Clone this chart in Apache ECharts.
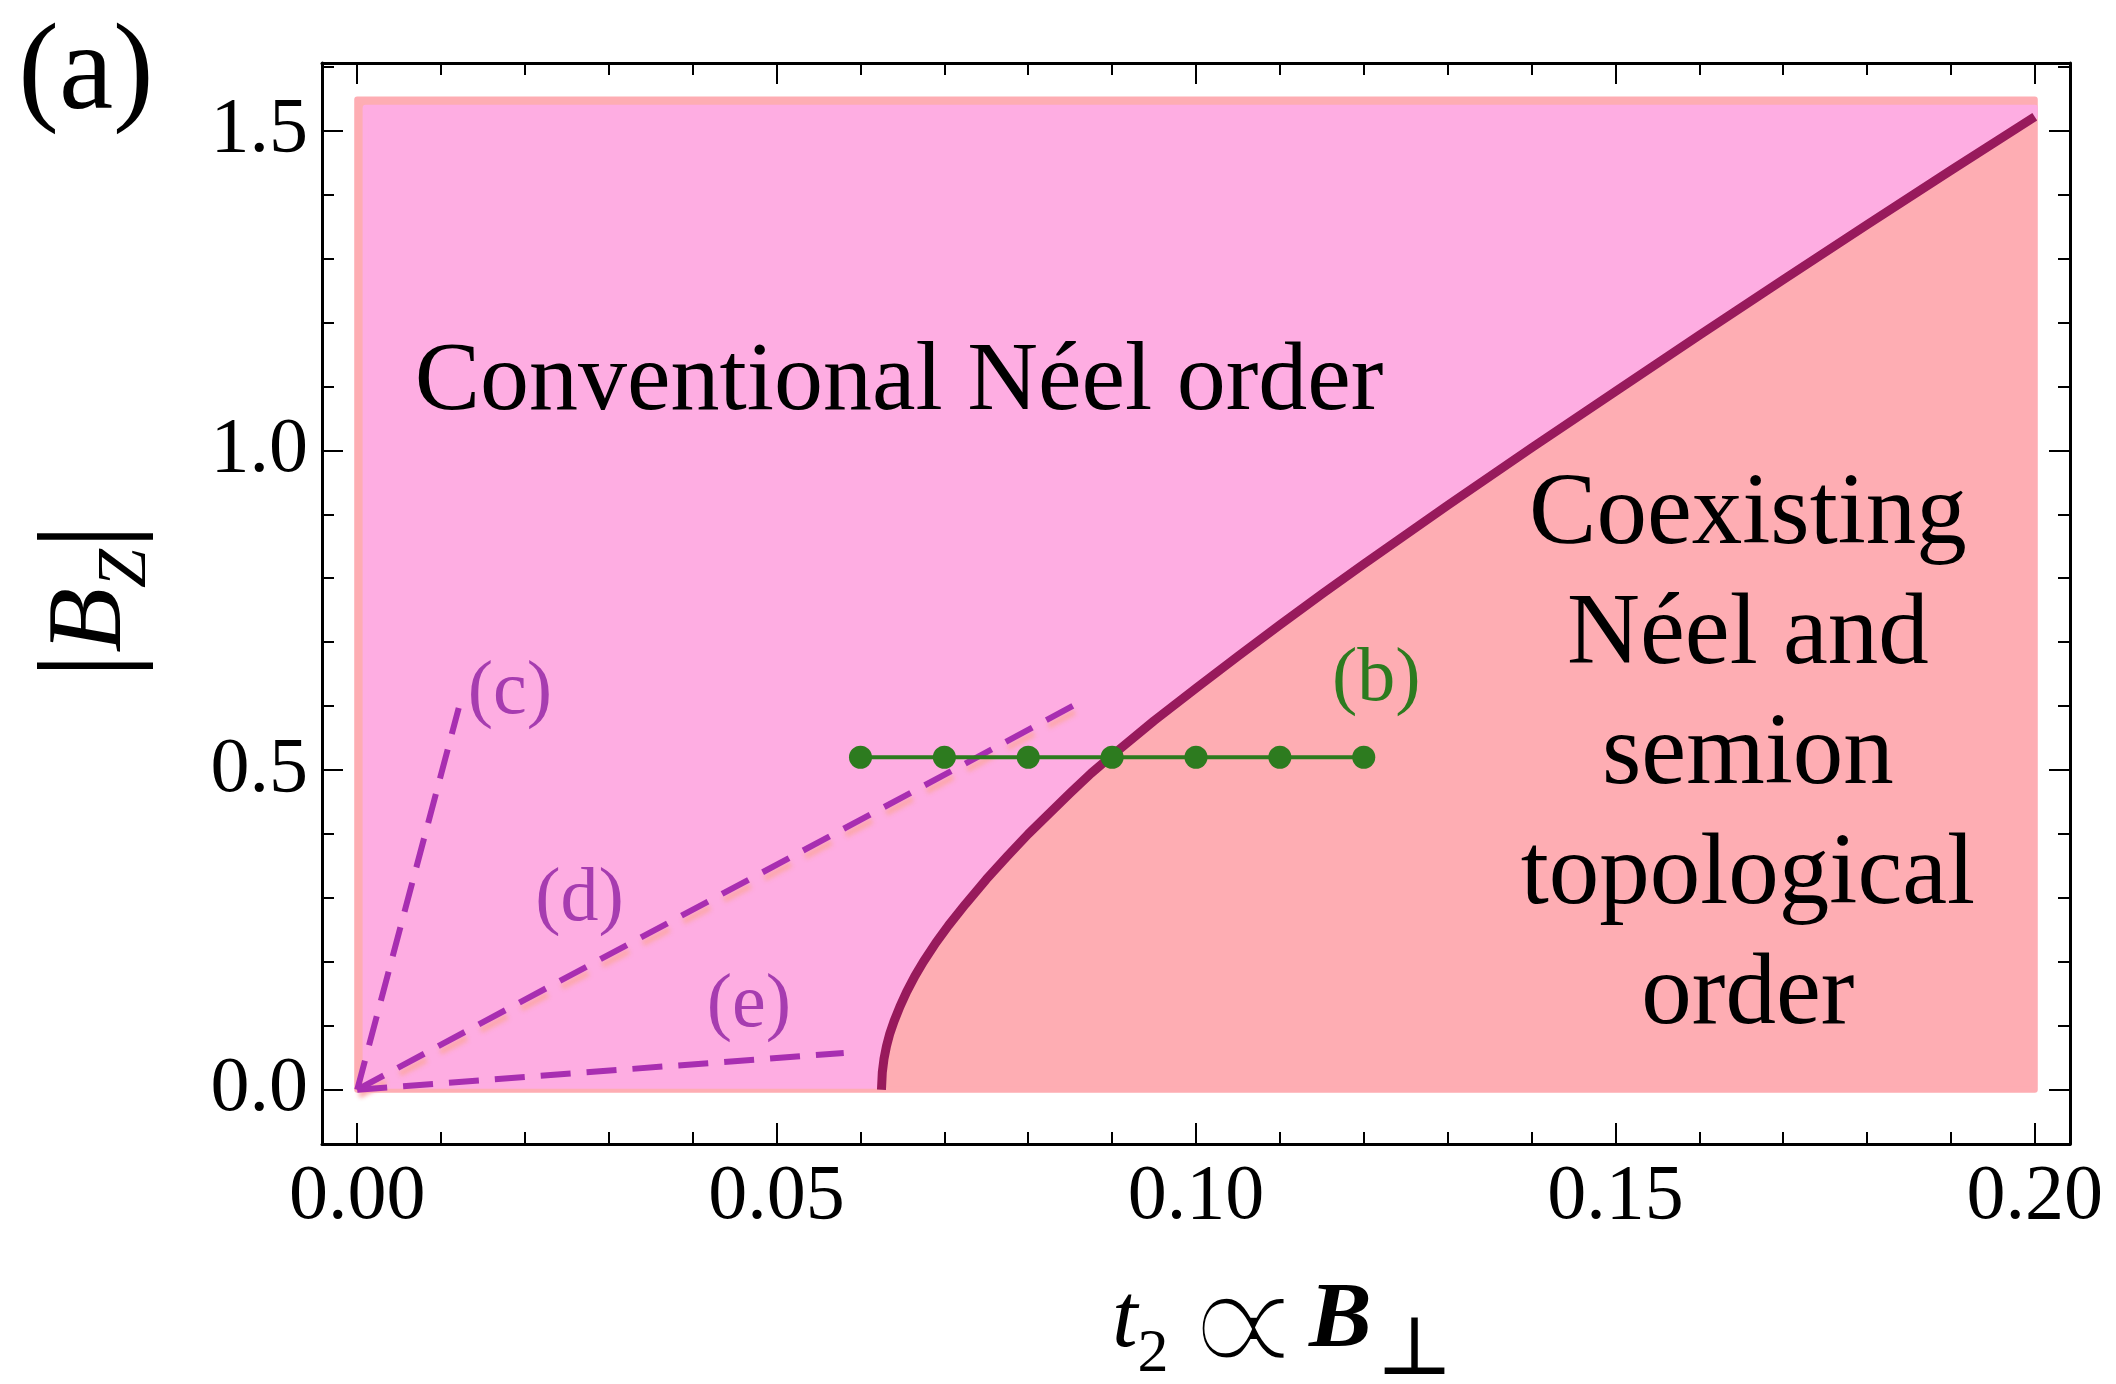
<!DOCTYPE html>
<html>
<head>
<meta charset="utf-8">
<script src="https://cdn.jsdelivr.net/npm/echarts@6/dist/echarts.min.js"></script>
<style>
html,body{margin:0;padding:0;background:#fff;}
#chart{width:2116px;height:1384px;}
</style>
</head>
<body>
<div id="chart"></div>
<script>
// ---------- data ----------
// axis tick values
const xMajorTicks = [0.00, 0.05, 0.10, 0.15, 0.20];
const xMinorTicks = [0.01, 0.02, 0.03, 0.04, 0.06, 0.07, 0.08, 0.09, 0.11, 0.12, 0.13, 0.14, 0.16, 0.17, 0.18, 0.19];
const yMajorTicks = [0.0, 0.5, 1.0, 1.5];
const yMinorTicks = [0.1, 0.2, 0.3, 0.4, 0.6, 0.7, 0.8, 0.9, 1.1, 1.2, 1.3, 1.4, 1.6];

// phase boundary (t2, |Bz|)
const boundaryT = [0.0625, 0.0626, 0.0628, 0.0631, 0.0635, 0.0640, 0.0647, 0.0655, 0.0665, 0.0675, 0.0690, 0.0705, 0.0725, 0.0750, 0.0775, 0.0800, 0.0825, 0.0850, 0.0875, 0.0900, 0.0950, 0.1000, 0.1050, 0.1100, 0.1150, 0.1200, 0.1300, 0.1400, 0.1500, 0.1600, 0.1700, 0.1800, 0.1900, 0.2000];
const boundaryB = [0.000, 0.027, 0.048, 0.068, 0.088, 0.107, 0.130, 0.153, 0.178, 0.200, 0.230, 0.257, 0.290, 0.329, 0.365, 0.400, 0.432, 0.464, 0.495, 0.523, 0.577, 0.628, 0.678, 0.727, 0.775, 0.822, 0.914, 1.004, 1.092, 1.180, 1.267, 1.353, 1.438, 1.522];

// whole computed region (coexisting phase background)
const regionT = [0.0, 0.2, 0.2, 0.0];
const regionB = [0.0, 0.0, 1.549, 1.549];
// conventional Neel region limits
const neelLeftT = 0.001;
const neelBottomB = 0.006;
const neelTopB = 1.536;

// cut (b): green points
const cutT = [0.06, 0.07, 0.08, 0.09, 0.10, 0.11, 0.12];
const cutB = [0.52, 0.52, 0.52, 0.52, 0.52, 0.52, 0.52];

// dashed paths (c), (d), (e)
const pathCT = [0, 0.0121];
const pathCB = [0, 0.597];
const pathDT = [0, 0.0854];
const pathDB = [0, 0.601];
const pathET = [0, 0.0580];
const pathEB = [0, 0.0575];

// ---------- chart ----------
const X_MIN = -0.0042, X_MAX = 0.2042;
const Y_MIN = -0.085, Y_MAX = 1.606;
const SERIF = "'Liberation Serif', 'DejaVu Serif', serif";
const PINK = '#FEADE2', SALMON = '#FEADB3', MAROON = '#981A5C', PURPLE = '#A82EB1', GREEN = '#2D7B1F';

const zip = (a, b) => a.map((v, i) => [v, b[i]]);

function xAxisDef(pos, ticks, len, withLabel, withLine) {
  return {
    type: 'value', gridIndex: 0, position: pos, min: X_MIN, max: X_MAX,
    axisLine: { show: withLine, onZero: false, lineStyle: { color: '#000', width: 3 } },
    axisTick: { show: true, inside: true, length: len, customValues: ticks, lineStyle: { color: '#000', width: 2 } },
    axisLabel: withLabel ? {
      show: true, customValues: ticks, formatter: v => v.toFixed(2), margin: 15,
      fontSize: 78, fontFamily: SERIF, color: '#000'
    } : { show: false },
    splitLine: { show: false }
  };
}
function yAxisDef(pos, ticks, len, withLabel, withLine) {
  return {
    type: 'value', gridIndex: 0, position: pos, min: Y_MIN, max: Y_MAX,
    axisLine: { show: withLine, onZero: false, lineStyle: { color: '#000', width: 3 } },
    axisTick: { show: true, inside: true, length: len, customValues: ticks, lineStyle: { color: '#000', width: 2 } },
    axisLabel: withLabel ? {
      show: true, customValues: ticks, formatter: v => v.toFixed(1), margin: 14,
      fontSize: 78, fontFamily: SERIF, color: '#000'
    } : { show: false },
    splitLine: { show: false }
  };
}

function polygonSeries(name, pts, fill, z) {
  return {
    name, type: 'custom', xAxisIndex: 0, yAxisIndex: 0, silent: true, z,
    data: [[0, 0]],
    renderItem: (params, api) => ({
      type: 'polygon',
      shape: { points: pts.map(p => api.coord(p)) },
      style: { fill: fill, stroke: fill, lineWidth: 6, lineJoin: 'round' }
    })
  };
}

const regionPts = zip(regionT, regionB);
const boundaryPts = zip(boundaryT, boundaryB);
const neelPts = [[neelLeftT, neelBottomB], [boundaryT[0], neelBottomB]]
  .concat(boundaryPts.slice(1))
  .concat([[boundaryT[boundaryT.length - 1], neelTopB], [neelLeftT, neelTopB]]);

function dashed(name, t, b, shadow) {
  return {
    name, type: 'line', xAxisIndex: 0, yAxisIndex: 0, z: 4, silent: true,
    data: zip(t, b), showSymbol: false,
    lineStyle: Object.assign({ color: PURPLE, width: 6, type: [30, 16], cap: 'butt' },
      shadow ? { shadowColor: 'rgba(252,168,168,0.95)', shadowBlur: 4, shadowOffsetX: 2, shadowOffsetY: 6 } : {})
  };
}

const chart = echarts.init(document.getElementById('chart'), null, { renderer: 'canvas' });
const option = {
  animation: false,
  backgroundColor: '#fff',
  grid: { left: 322, right: 46, top: 63, bottom: 240, containLabel: false },
  xAxis: [
    xAxisDef('bottom', xMajorTicks, 21, true, true),
    xAxisDef('bottom', xMinorTicks, 12, false, false),
    xAxisDef('top', xMajorTicks, 21, false, true),
    xAxisDef('top', xMinorTicks, 12, false, false)
  ],
  yAxis: [
    yAxisDef('left', yMajorTicks, 21, true, true),
    yAxisDef('left', yMinorTicks, 12, false, false),
    yAxisDef('right', yMajorTicks, 21, false, true),
    yAxisDef('right', yMinorTicks, 12, false, false)
  ],
  series: [
    polygonSeries('Coexisting region', regionPts, SALMON, 1),
    polygonSeries('Conventional region', neelPts, PINK, 2),
    dashed('(c)', pathCT, pathCB, false),
    dashed('(d)', pathDT, pathDB, true),
    dashed('(e)', pathET, pathEB, false),
    {
      name: 'Phase boundary', type: 'line', xAxisIndex: 0, yAxisIndex: 0, z: 5, silent: true,
      data: boundaryPts, showSymbol: false, smooth: false,
      lineStyle: { color: MAROON, width: 9, cap: 'butt', join: 'round' }
    },
    {
      name: '(b)', type: 'line', xAxisIndex: 0, yAxisIndex: 0, z: 6, silent: true,
      data: zip(cutT, cutB), symbol: 'circle', symbolSize: 23, showSymbol: true,
      itemStyle: { color: GREEN }, lineStyle: { color: GREEN, width: 4 }
    }
  ]
};
chart.setOption(option);

// ---------- annotations anchored in data space ----------
const annotations = [
  { text: 'Conventional Néel order', at: [0.0646, 1.105], color: '#000', size: 98 },
  { text: 'Coexisting\nNéel and\nsemion\ntopological\norder', at: [0.1658, 0.521], color: '#000', size: 101, lh: 120 },
  { text: '(b)', at: [0.1215, 0.640], color: GREEN, size: 76 },
  { text: '(c)', at: [0.0182, 0.621], color: '#A63CB0', size: 76 },
  { text: '(d)', at: [0.0265, 0.296], color: '#A63CB0', size: 76 },
  { text: '(e)', at: [0.0467, 0.131], color: '#A63CB0', size: 76 }
];
const graphics = annotations.map(a => {
  const p = chart.convertToPixel({ xAxisIndex: 0, yAxisIndex: 0 }, a.at);
  return {
    type: 'text', x: p[0], y: p[1], z: 10, silent: true,
    style: {
      text: a.text, fill: a.color, fontSize: a.size, fontFamily: SERIF,
      align: 'center', verticalAlign: 'middle', lineHeight: a.lh || a.size * 1.2
    }
  };
});
// panel label
graphics.push({
  type: 'text', x: 86, y: 76, z: 10, silent: true,
  style: { text: '(a)', fill: '#000', fontSize: 122, fontFamily: SERIF, align: 'center', verticalAlign: 'middle' }
});
// x-axis title: t_2 ∝ B_⊥
graphics.push({
  type: 'text', x: 1112, y: 1322, z: 10, silent: true,
  style: {
    text: '{i|t}{s|2}', fill: '#000', align: 'left', verticalAlign: 'middle',
    rich: {
      i: { fontSize: 92, fontFamily: SERIF, fontStyle: 'italic', fill: '#000' },
      s: { fontSize: 62, fontFamily: SERIF, fill: '#000', padding: [66, 0, 0, 0] }
    }
  }
});
const PROP_FONT = "'DejaVu Sans', sans-serif";
graphics.push({
  type: 'text', x: 1243, y: 1335, z: 10, silent: true,
  style: {
    text: '∝', fill: '#000', fontSize: 176, fontFamily: PROP_FONT,
    align: 'center', verticalAlign: 'middle'
  }
});
// thin the enlarged glyph by tracing its outline in the background colour
graphics.push({
  type: 'text', x: 1243, y: 1335, z: 11, silent: true,
  style: {
    text: '∝', fill: 'rgba(0,0,0,0)', fontSize: 176, fontFamily: PROP_FONT,
    align: 'center', verticalAlign: 'middle', stroke: '#fff', lineWidth: 7
  }
});
graphics.push({
  type: 'text', x: 1309, y: 1322, z: 10, silent: true,
  style: {
    text: '{b|B}{s|⊥}', fill: '#000', align: 'left', verticalAlign: 'middle',
    rich: {
      b: { fontSize: 94, fontFamily: SERIF, fontStyle: 'italic', fontWeight: 'bold', fill: '#000' },
      s: { fontSize: 82, fontFamily: SERIF, fill: '#000', padding: [60, 0, 0, 4] }
    }
  }
});
// y-axis title: |B_Z|
graphics.push({
  type: 'text', x: 92, y: 601, z: 10, silent: true, rotation: Math.PI / 2,
  style: {
    text: '{n||}{b|B}{s|Z}{n||}', fill: '#000', align: 'center', verticalAlign: 'middle',
    rich: {
      n: { fontSize: 128, fontFamily: SERIF, fill: '#000' },
      b: { fontSize: 106, fontFamily: SERIF, fontStyle: 'italic', fill: '#000' },
      s: { fontSize: 70, fontFamily: SERIF, fontStyle: 'italic', fill: '#000', padding: [70, 0, 0, 0] }
    }
  }
});
chart.setOption({ graphic: graphics });
</script>
</body>
</html>
